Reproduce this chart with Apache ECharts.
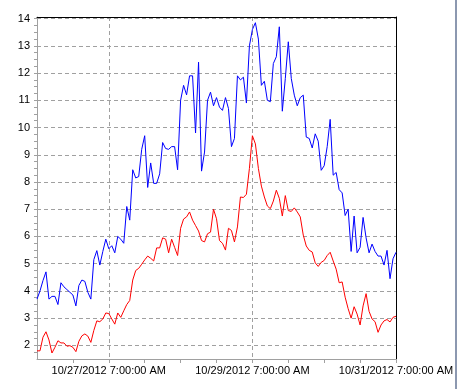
<!DOCTYPE html>
<html><head><meta charset="utf-8">
<script src="https://cdn.jsdelivr.net/npm/echarts@6/dist/echarts.min.js"></script>
<style>html,body{margin:0;padding:0;background:#fff;overflow:hidden}#c{width:458px;height:389px}</style>
</head><body><div id="c"></div>
<script>
// hourly samples starting 10/26/2012 7:00:00 AM
const startUTC = Date.UTC(2012, 9, 26, 7, 0, 0);
const sampleCount = 121;

const blueValues = [
  3.7, 4.0, 4.38, 4.7, 3.7, 3.8, 3.8, 3.5, 4.3, 4.15,
  4.05, 3.95, 3.85, 3.45, 4.2, 4.4, 4.35, 3.95, 3.7, 5.15,
  5.48, 4.95, 5.45, 5.9, 5.55, 5.66, 5.4, 6.0, 5.9, 5.75,
  7.1, 6.6, 8.45, 8.15, 8.2, 9.2, 9.7, 7.8, 8.7, 7.95,
  7.95, 8.3, 9.45, 9.23, 9.2, 9.3, 9.3, 8.45, 11.0, 11.55,
  11.2, 11.9, 11.9, 9.8, 12.4, 8.4, 9.1, 11.0, 11.3, 10.8,
  11.1, 10.75, 10.63, 11.1, 10.7, 9.3, 9.6, 11.9, 11.75, 11.85,
  10.9, 13.0, 13.6, 13.85, 13.25, 11.55, 11.7, 11.0, 10.95, 12.35,
  12.6, 13.7, 10.6, 11.8, 13.15, 11.8, 11.19, 10.8, 11.1, 11.19,
  9.65, 9.6, 9.25, 9.77, 9.5, 8.43, 8.6, 9.3, 10.3, 8.25,
  8.35, 7.72, 7.6, 6.77, 7.0, 5.45, 6.75, 5.4, 5.6, 6.7,
  5.95, 5.4, 5.72, 5.45, 5.28, 5.28, 4.95, 5.49, 4.45, 5.18,
  5.42
];

const redValues = [
  1.8, 1.8, 2.3, 2.5, 2.2, 1.72, 1.93, 2.17, 2.09, 2.09,
  1.97, 1.99, 1.93, 1.77, 2.15, 2.35, 2.42, 2.34, 2.11, 2.55,
  2.9, 2.87, 2.97, 3.19, 3.17, 2.97, 2.78, 3.19, 3.03, 3.27,
  3.5, 3.65, 4.4, 4.75, 4.83, 4.98, 5.14, 5.28, 5.2, 5.1,
  5.58, 5.58, 5.95, 5.9, 5.4, 5.9, 5.6, 5.3, 6.3, 6.64,
  6.72, 6.9, 6.6, 6.4, 6.2, 5.85, 5.8, 6.1, 6.16, 7.0,
  6.65, 5.85, 5.75, 5.5, 6.3, 6.22, 5.8, 6.35, 7.45, 7.43,
  7.55, 8.5, 9.7, 9.4, 8.5, 7.85, 7.45, 7.12, 7.02, 7.3,
  7.7, 7.4, 6.75, 7.5, 6.95, 6.92, 7.05, 6.9, 6.72, 6.05,
  5.65, 5.49, 5.43, 5.03, 4.9, 5.05, 5.12, 5.3, 5.42, 5.1,
  4.8, 4.3, 4.33, 3.77, 3.35, 3.0, 3.42, 3.15, 2.75, 3.45,
  3.9, 3.25, 2.97, 2.87, 2.48, 2.75, 2.9, 2.95, 2.86, 3.03,
  3.07
];

const xTickLabels = ['10/27/2012 7:00:00 AM', '10/29/2012 7:00:00 AM', '10/31/2012 7:00:00 AM'];
const yTickLabels = [2, 3, 4, 5, 6, 7, 8, 9, 10, 11, 12, 13, 14];

function fmtDate(ms) {
  const d = new Date(ms);
  let h = d.getUTCHours();
  const ap = h >= 12 ? 'PM' : 'AM';
  h = h % 12; if (h === 0) h = 12;
  const p = n => (n < 10 ? '0' : '') + n;
  return (d.getUTCMonth() + 1) + '/' + d.getUTCDate() + '/' + d.getUTCFullYear() + ' ' +
    h + ':' + p(d.getUTCMinutes()) + ':' + p(d.getUTCSeconds()) + ' ' + ap;
}
const categories = [];
for (let i = 0; i < sampleCount; i++) categories.push(fmtDate(startUTC + i * 3600000));

const yMinorTicks = [];
for (let v = 1.75; v <= 14.001; v += 0.25) yMinorTicks.push(Math.round(v * 100) / 100);

const FONT = "'Liberation Sans', Arial, sans-serif";
const GRAY = '#a0a0a0';

const chart = echarts.init(document.getElementById('c'), null, { renderer: 'canvas' });
chart.setOption({
  animation: false,
  backgroundColor: '#fff',
  grid: { left: 37, top: 17, width: 359, height: 342, containLabel: false },
  xAxis: [
    {
      type: 'category', data: categories, boundaryGap: false, position: 'bottom',
      axisLine: { onZero: false, lineStyle: { color: GRAY, width: 1 } },
      axisTick: { show: true, length: 4, interval: (i) => i > 0 && i % 12 === 0, lineStyle: { color: GRAY } },
      axisLabel: { interval: (i, v) => xTickLabels.indexOf(v) >= 0, margin: 6, color: '#000', fontSize: 11, fontFamily: FONT },
      splitLine: { show: true, interval: (i, v) => xTickLabels.indexOf(v) >= 0, lineStyle: { color: GRAY, type: [4, 3], width: 1 } }
    },
    {
      type: 'category', data: categories, boundaryGap: false, position: 'top',
      axisLine: { onZero: false, lineStyle: { color: '#000', width: 1 } },
      axisTick: { show: false }, axisLabel: { show: false }, splitLine: { show: false }
    }
  ],
  yAxis: [
    {
      type: 'value', min: 1.5, max: 14.06, interval: 0.5, position: 'left',
      axisLine: { show: true, onZero: false, lineStyle: { color: GRAY, width: 1 } },
      axisTick: { show: false, customValues: yTickLabels },
      axisLabel: { customValues: yTickLabels, margin: 7, color: '#000', fontSize: 11, fontFamily: FONT },
      splitLine: { show: true, lineStyle: { color: GRAY, type: [4, 3], width: 1 } }
    },
    {
      type: 'value', min: 1.5, max: 14.06, position: 'left',
      axisLine: { show: false },
      axisTick: { show: true, customValues: yMinorTicks, length: 3, lineStyle: { color: GRAY } },
      axisLabel: { show: false }, splitLine: { show: false }
    },
    {
      type: 'value', min: 1.5, max: 14.06, position: 'right',
      axisLine: { show: true, onZero: false, lineStyle: { color: '#000', width: 1 } },
      axisTick: { show: false }, axisLabel: { show: false }, splitLine: { show: false }
    }
  ],
  series: [
    { type: 'line', name: 'Blue', data: blueValues, xAxisIndex: 0, yAxisIndex: 0, showSymbol: false, symbol: 'none',
      lineStyle: { color: '#0000ff', width: 1 }, itemStyle: { color: '#0000ff' } },
    { type: 'line', name: 'Red', data: redValues, xAxisIndex: 0, yAxisIndex: 0, showSymbol: false, symbol: 'none',
      lineStyle: { color: '#ff0000', width: 1 }, itemStyle: { color: '#ff0000' } }
  ],
  graphic: [
    { type: 'rect', left: 455, top: 0, shape: { width: 2, height: 389 }, style: { fill: '#8c98b0' }, silent: true }
  ]
});
</script>
</body></html>
